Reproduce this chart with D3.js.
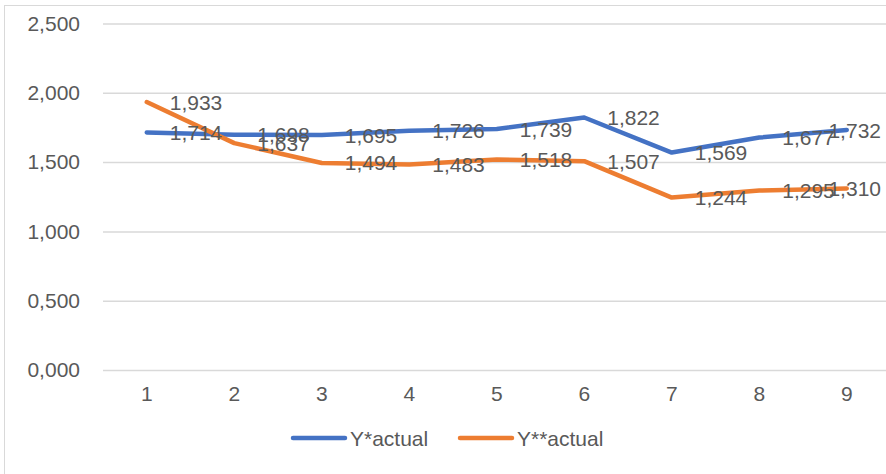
<!DOCTYPE html>
<html>
<head>
<meta charset="utf-8">
<script src="https://cdn.jsdelivr.net/npm/d3@7"></script>
<style>
  html, body { margin: 0; padding: 0; background: #fff; overflow: hidden; }
  svg { display: block; }
  text { font-family: "Liberation Sans", Arial, sans-serif; fill: #595959; }
</style>
</head>
<body>
<svg id="chart" width="886" height="474"></svg>
<script>
// Categories and series
const categories = ["1", "2", "3", "4", "5", "6", "7", "8", "9"];
const yStarActual = [1.714, 1.698, 1.695, 1.726, 1.739, 1.822, 1.569, 1.677, 1.732];
const yStarStarActual = [1.933, 1.637, 1.494, 1.483, 1.518, 1.507, 1.244, 1.295, 1.310];
const seriesNames = ["Y*actual", "Y**actual"];
const yTicks = [0, 0.5, 1.0, 1.5, 2.0, 2.5];

const colors = ["#4472C4", "#ED7D31"];
const series = [
  { name: seriesNames[0], values: yStarActual, color: colors[0] },
  { name: seriesNames[1], values: yStarStarActual, color: colors[1] }
];

const W = 886, H = 474;
const plot = { left: 103, right: 890.5, top: 23.5, bottom: 370 };
const fontSize = 21;

// Number format with comma decimal separator and three decimals
const locale = d3.formatLocale({ decimal: ",", thousands: ".", grouping: [3], currency: ["", ""] });
const fmt = locale.format(".3f");

const svg = d3.select("#chart");

// Chart area border (the frame runs off the right and bottom edges)
svg.append("rect")
  .attr("x", 4.5).attr("y", 5.5)
  .attr("width", 900).attr("height", 500)
  .attr("fill", "#fff")
  .attr("stroke", "#d9d9d9").attr("stroke-width", 1);

const x = d3.scaleBand().domain(categories).range([plot.left, plot.right]);
const y = d3.scaleLinear().domain([0, 2.5]).range([plot.bottom, plot.top]);
const cx = c => x(c) + x.bandwidth() / 2;

// Horizontal gridlines and value axis labels
const yAxis = d3.axisLeft(y)
  .tickValues(yTicks)
  .tickFormat(fmt)
  .tickSize(-(W - plot.left))
  .tickPadding(23);
const gy = svg.append("g")
  .attr("transform", `translate(${plot.left},0)`)
  .call(yAxis);
gy.select(".domain").remove();
gy.selectAll(".tick line").attr("stroke", "#d9d9d9").attr("stroke-width", 1.5);
gy.selectAll(".tick text")
  .attr("font-size", fontSize)
  .attr("fill", "#595959")
  .attr("font-family", "Liberation Sans, Arial, sans-serif");

// Category axis labels
const xAxis = d3.axisBottom(x).tickSize(0).tickPadding(16);
const gx = svg.append("g")
  .attr("transform", `translate(0,${plot.bottom})`)
  .call(xAxis);
gx.select(".domain").remove();
gx.selectAll(".tick text")
  .attr("font-size", fontSize)
  .attr("fill", "#595959")
  .attr("font-family", "Liberation Sans, Arial, sans-serif");

// Series lines
const line = d3.line()
  .x((d, i) => cx(categories[i]))
  .y(d => y(d));

series.forEach(s => {
  svg.append("path")
    .datum(s.values)
    .attr("fill", "none")
    .attr("stroke", s.color)
    .attr("stroke-width", 4.5)
    .attr("stroke-linejoin", "round")
    .attr("stroke-linecap", "round")
    .attr("d", line);
});

// Data labels, to the right of each point, kept inside the chart area
const labelRightLimit = 881;
series.forEach(s => {
  const g = svg.append("g");
  s.values.forEach((v, i) => {
    const xl = cx(categories[i]) + 23;
    const t = g.append("text")
      .attr("font-size", fontSize)
      .attr("fill", "#404040")
      .attr("x", xl)
      .attr("y", y(v))
      .attr("dy", "0.36em")
      .text(fmt(v));
    const w = t.node().getComputedTextLength();
    if (xl + w > labelRightLimit) t.attr("x", labelRightLimit - w);
  });
});

// Legend
const legend = svg.append("g").attr("transform", "translate(0,438)");
const legendItems = [
  { x: 291, name: seriesNames[0], color: colors[0] },
  { x: 458, name: seriesNames[1], color: colors[1] }
];
legendItems.forEach(it => {
  legend.append("line")
    .attr("x1", it.x + 2).attr("x2", it.x + 54)
    .attr("y1", 0).attr("y2", 0)
    .attr("stroke", it.color).attr("stroke-width", 4.5)
    .attr("stroke-linecap", "round");
  legend.append("text")
    .attr("x", it.x + 59)
    .attr("y", 0)
    .attr("dy", "0.36em")
    .attr("font-size", fontSize)
    .attr("fill", "#595959")
    .text(it.name);
});
</script>
</body>
</html>
